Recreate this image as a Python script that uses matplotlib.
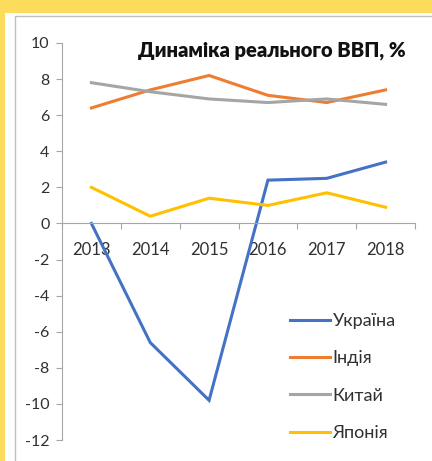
import numpy as np
import matplotlib.pyplot as plt
from matplotlib.patches import Rectangle
from matplotlib.lines import Line2D

years = ['2013', '2014', '2015', '2016', '2017', '2018']
ukraine = [0.0, -6.6, -9.8, 2.4, 2.5, 3.4]
india = [6.4, 7.4, 8.2, 7.1, 6.7, 7.4]
china = [7.8, 7.3, 6.9, 6.7, 6.9, 6.6]
japan = [2.0, 0.4, 1.4, 1.0, 1.7, 0.9]

series = [('Україна', ukraine, '#4472C4'),
          ('Індія', india, '#ED7D31'),
          ('Китай', china, '#A5A5A5'),
          ('Японія', japan, '#FFC000')]

plt.rcParams['font.family'] = ['Lato', 'DejaVu Sans']

W, H = 432, 461
fig = plt.figure(figsize=(W / 100, H / 100), dpi=100)
fig.patch.set_facecolor('#FDDC5C')

def px(x, y, w, h):
    # pixel box (top-left origin) -> figure fraction rectangle
    return (x / W, 1 - (y + h) / H), w / W, h / H

xy, w, h = px(5, 13, W, H)
fig.patches.append(Rectangle(xy, w, h, transform=fig.transFigure, facecolor='white', edgecolor='none', zorder=-10))
xy, w, h = px(15, 16, W, H)
fig.patches.append(Rectangle(xy, w, h, transform=fig.transFigure, facecolor='white', edgecolor='#BFBFBF', lw=1, zorder=-9))

ax = fig.add_axes([62 / W, 21 / H, (415 - 62) / W, (440 - 43) / H])
ax.set_facecolor('none')

x = np.arange(len(years)) + 0.5
for name, vals, col in series:
    ax.plot(x, vals, color=col, lw=2.2, label=name, solid_joinstyle='miter')

ax.set_xlim(0, len(years))
ax.set_ylim(-12, 10)
ax.set_yticks(np.arange(-12, 11, 2))
ax.set_yticklabels([str(v) for v in range(-12, 11, 2)])

ax.set_xticks(np.arange(len(years) + 1))
ax.set_xticklabels([])
ax.set_xticks(x, minor=True)
ax.set_xticklabels(years, minor=True)
ax.tick_params(axis='x', which='minor', length=0, pad=13, labelsize=12, colors='#303030')
ax.tick_params(axis='x', which='major', length=4, color='#A6A6A6', width=0.8)
ax.tick_params(axis='y', length=4, color='#A6A6A6', width=0.8, pad=5, labelsize=11.5, labelcolor='#303030')

for s in ['top', 'right']:
    ax.spines[s].set_visible(False)
ax.spines['bottom'].set_position(('data', 0))
ax.spines['left'].set_color('#A6A6A6')
ax.spines['bottom'].set_color('#A6A6A6')
ax.spines['left'].set_linewidth(0.8)
ax.spines['bottom'].set_linewidth(0.8)

fig.text(272 / W, 1 - 50 / H, 'Динаміка реального ВВП, %', ha='center', va='center',
         fontsize=14.5, fontweight='heavy', color='#111111')

handles = [Line2D([], [], color=c, lw=2.2) for _, _, c in series]
ax.legend(handles, [s[0] for s in series], loc='lower right',
          bbox_to_anchor=(0.991, -0.043), frameon=False, fontsize=13,
          handlelength=2.2, handletextpad=0.15, labelspacing=1.18,
          labelcolor='#303030')

fig.savefig('out.png', dpi=100, facecolor=fig.get_facecolor())
